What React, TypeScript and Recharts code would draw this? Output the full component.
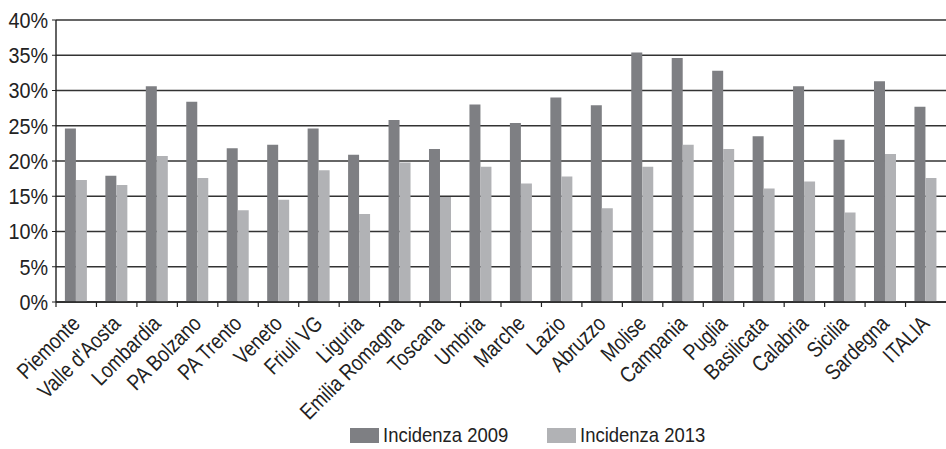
import React from "react";
import {
  BarChart,
  Bar,
  XAxis,
  YAxis,
  CartesianGrid,
  Legend,
} from "recharts";

const regions = [
  "Piemonte",
  "Valle d'Aosta",
  "Lombardia",
  "PA Bolzano",
  "PA Trento",
  "Veneto",
  "Friuli VG",
  "Liguria",
  "Emilia Romagna",
  "Toscana",
  "Umbria",
  "Marche",
  "Lazio",
  "Abruzzo",
  "Molise",
  "Campania",
  "Puglia",
  "Basilicata",
  "Calabria",
  "Sicilia",
  "Sardegna",
  "ITALIA",
];

const inc2009 = [
  24.6, 17.9, 30.6, 28.4, 21.8, 22.3, 24.6, 20.9, 25.8, 21.7, 28.0, 25.4, 29.0,
  27.9, 35.4, 34.6, 32.8, 23.5, 30.6, 23.0, 31.3, 27.7,
];

const inc2013 = [
  17.3, 16.6, 20.7, 17.6, 13.0, 14.5, 18.7, 12.5, 19.8, 14.9, 19.2, 16.8, 17.8,
  13.3, 19.2, 22.3, 21.7, 16.1, 17.1, 12.7, 21.0, 17.6,
];

const yTicks = [0, 5, 10, 15, 20, 25, 30, 35, 40];

const data = regions.map((name, i) => ({
  name,
  a: inc2009[i],
  b: inc2013[i],
}));

const FONT = "'Liberation Sans', Arial, sans-serif";
const DARK = "#7e7f83";
const LIGHT = "#b1b2b5";

// condensed look: bigger font size, squeezed horizontally
function XTick(props: any) {
  const { x, y, payload } = props;
  const half = payload.offset ?? 0;
  const ax = x + 5;
  const ay = y + 23;
  return (
    <g>
      <line x1={x - half} x2={x - half} y1={y} y2={y + 5} stroke="#222" strokeWidth={1.2} />
      <text
        x={0}
        y={0}
        textAnchor="end"
        transform={`translate(${ax},${ay}) rotate(-45) scale(0.84,1)`}
        fontSize={22}
        fontFamily={FONT}
        fill="#222"
      >
        {payload.value}
      </text>
    </g>
  );
}

function YTick(props: any) {
  const { x, y, payload } = props;
  return (
    <text
      x={0}
      y={0}
      textAnchor="end"
      dominantBaseline="central"
      transform={`translate(${x},${y}) scale(0.9,1)`}
      fontSize={22}
      fontFamily={FONT}
      fill="#222"
    >
      {`${payload.value}%`}
    </text>
  );
}

function LegendBox(props: any) {
  const items = props.payload || [];
  return (
    <div
      style={{
        height: 28,
        display: "flex",
        alignItems: "center",
        paddingLeft: 350,
        fontFamily: FONT,
        fontSize: 21,
        color: "#222",
      }}
    >
      {items.map((it: any, i: number) => (
        <div key={i} style={{ display: "flex", alignItems: "center", marginRight: 22 }}>
          <span style={{ width: 29, height: 15, background: it.color, marginRight: 4 }} />
          <span style={{ display: "inline-block", transform: "scaleX(0.88)", transformOrigin: "left center" }}>
            {it.value}
          </span>
        </div>
      ))}
    </div>
  );
}

export default function App() {
  return (
    <div style={{ position: "absolute", left: 0, top: 0 }}>
      <BarChart
        width={946}
        height={449}
        data={data}
        margin={{ top: 20, right: 0, left: 0, bottom: 0 }}
        barCategoryGap="22%"
        barGap={0}
      >
        <CartesianGrid vertical={false} stroke="#333" strokeWidth={1.4} />
        <XAxis
          dataKey="name"
          interval={0}
          height={119}
          tickLine={false}
          tickSize={0}
          tickMargin={0}
          axisLine={{ stroke: "#222", strokeWidth: 1.4 }}
          tick={<XTick />}
        />
        <YAxis
          width={56}
          domain={[0, 40]}
          ticks={yTicks}
          interval={0}
          tickSize={4}
          tickMargin={4}
          axisLine={{ stroke: "#222", strokeWidth: 1.4 }}
          tickLine={{ stroke: "#222" }}
          tick={<YTick />}
        />
        <Legend verticalAlign="bottom" content={<LegendBox />} />
        <Bar dataKey="a" name="Incidenza 2009" fill={DARK} isAnimationActive={false} />
        <Bar dataKey="b" name="Incidenza 2013" fill={LIGHT} isAnimationActive={false} />
      </BarChart>
    </div>
  );
}
